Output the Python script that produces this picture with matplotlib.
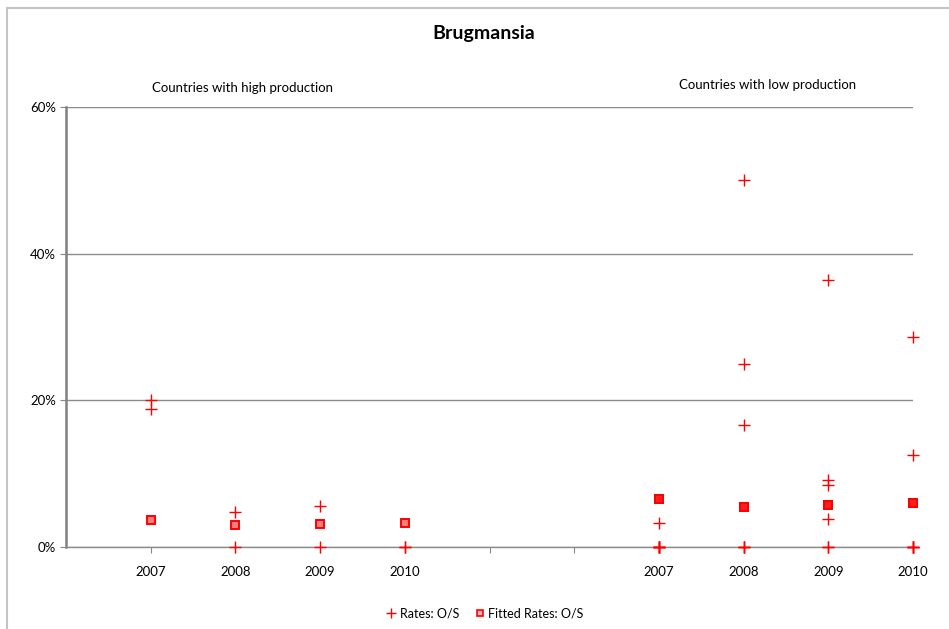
import matplotlib
matplotlib.use("Agg")
import matplotlib.pyplot as plt
from matplotlib.patches import Rectangle

plt.rcParams['font.family'] = ['Lato', 'DejaVu Sans']

# category positions on the x axis (two groups with a gap)
years = ["2007", "2008", "2009", "2010"]
high_pos = [1, 2, 3, 4]
low_pos = [7, 8, 9, 10]
tick_labels = ["2007", "2008", "2009", "2010", "", "", "2007", "2008", "2009", "2010"]

# observed rates (%) per country, high production group
high_rates = [
    [20.0, 18.8],
    [4.8, 0.0],
    [5.6, 0.0],
    [0.0, 0.0],
]
# fitted rates (%), one per country
high_fitted = [3.7, 3.0, 3.1, 3.3]
high_n = 2

# observed rates (%) per country, low production group
low_rates = [
    [3.3, 0.0, 0.0, 0.0, 0.0, 0.0],
    [50.0, 25.0, 16.6, 0.0, 0.0, 0.0],
    [36.4, 9.1, 8.45, 3.77, 0.0, 0.0],
    [28.7, 12.5, 0.0, 0.0, 0.0, 0.0],
]
low_fitted = [6.6, 5.4, 5.7, 6.05]
low_n = 6

W, H = 949, 629
fig = plt.figure(figsize=(W / 100, H / 100), dpi=100)
ax = fig.add_axes([66 / W, 1 - 547 / H, (913 - 66) / W, (547 - 107) / H])

# chart border (extends off the image on right/bottom)
fig.patches.append(Rectangle((7 / W, -0.05), 1.1, 1 - 8 / H + 0.05,
                             transform=fig.transFigure, fill=False,
                             edgecolor="#c4c4c4", linewidth=1.5))

red = "#ff0000"
rx, ry, fx, fy = [], [], [], []
for pos, vals, fit, n in [(high_pos, high_rates, high_fitted, high_n),
                          (low_pos, low_rates, low_fitted, low_n)]:
    for p, v, f in zip(pos, vals, fit):
        rx += [p] * len(v)
        ry += v
        fx += [p] * n
        fy += [f] * n

ax.plot(fx, fy, ls="none", marker="s", ms=6, mec=red, mew=1.2,
        mfc=(1, 0, 0, 0.3), label="Fitted Rates: O/S", clip_on=False, zorder=3)
ax.plot(rx, ry, ls="none", marker="+", ms=9, mew=1.0, color=red,
        label="Rates: O/S", clip_on=False, zorder=4)

ax.set_xlim(0, 10)
ax.set_ylim(0, 60)
ax.set_xticks(range(1, 11))
ax.set_xticklabels(tick_labels)
ax.set_yticks([0, 20, 40, 60])
ax.set_yticklabels(["0%", "20%", "40%", "60%"])
ax.tick_params(axis="both", direction="out", length=4, color="#888888",
               labelsize=9.5, labelcolor="black")
ax.tick_params(axis="x", pad=10)
ax.tick_params(axis="y", pad=3)
ax.grid(axis="y", color="#8c8c8c", linewidth=1)
ax.set_axisbelow(True)
for s in ["top", "right"]:
    ax.spines[s].set_visible(False)
ax.spines["left"].set_color("#808080")
ax.spines["left"].set_linewidth(1.8)
ax.spines["bottom"].set_color("#8c8c8c")
ax.spines["bottom"].set_linewidth(1)

fig.text(484 / W, 1 - 34 / H, "Brugmansia", ha="center", va="center",
         fontsize=14, fontweight="bold")
fig.text(243 / W, 1 - 88 / H, "Countries with high production", ha="center",
         va="center", fontsize=9.5)
fig.text(768 / W, 1 - 85 / H, "Countries with low production", ha="center",
         va="center", fontsize=9.5)

h, l = ax.get_legend_handles_labels()
fig.legend(h[::-1], l[::-1], loc="center", bbox_to_anchor=(485 / W, 1 - 613 / H),
           ncol=2, frameon=False, fontsize=9, handlelength=0.8, handletextpad=0.3,
           columnspacing=1.2, markerscale=0.8)

fig.savefig("out.png", dpi=100, facecolor="white")
